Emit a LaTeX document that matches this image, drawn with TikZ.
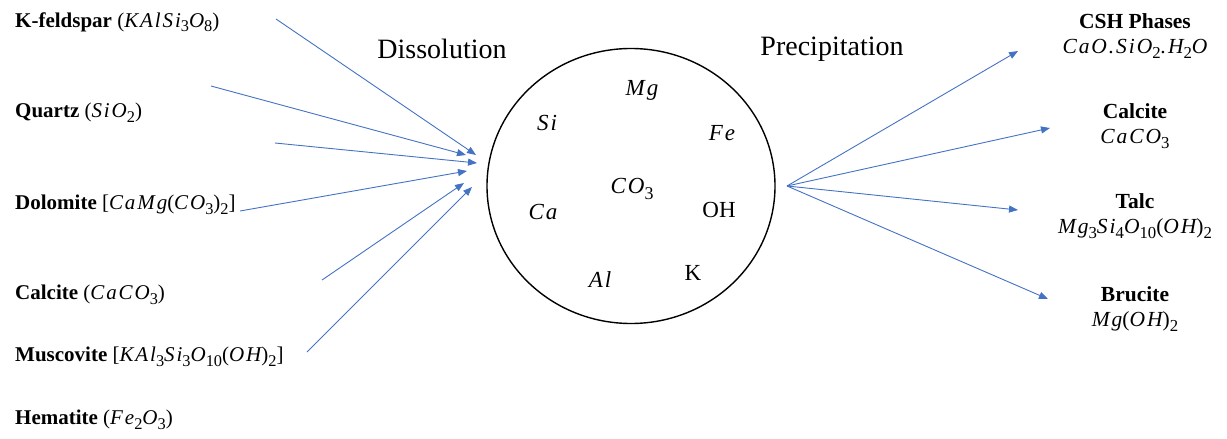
\documentclass[tikz,border=0pt]{standalone}
\usepackage{graphicx}
\usepackage{fontspec}
\setmainfont{Liberation Serif}
\newfontfamily\fmfam[LetterSpace=9]{Liberation Serif}
\newcommand\fm[1]{{\fmfam\itshape #1}}
\newcommand\sbs[1]{\raisebox{-0.22em}{\scalebox{0.78}{#1}}}
\usetikzlibrary{arrows.meta,shapes.geometric}
\definecolor{arrblue}{RGB}{68,114,196}
\begin{document}
\begin{tikzpicture}[x=1pt,y=-1pt,
  lbl/.style={anchor=west,inner sep=0pt,font=\fontsize{21}{25}\selectfont},
  prod/.style={align=center,inner sep=0pt,font=\fontsize{21.5}{25}\selectfont},
  ion/.style={inner sep=0pt,font=\fontsize{23}{26}\selectfont},
  head/.style={inner sep=0pt,font=\fontsize{28}{30}\selectfont},
  flow/.style={draw=arrblue,line width=0.9pt,-{Triangle[length=9pt,width=7pt]},arrblue}]
\useasboundingbox (0,0) rectangle (1227,439);
% left labels
\node[lbl] (kf) at (15,22) {\textbf{K-feldspar} (\fm{KAlSi}\sbs{3}\fm{O}\sbs{8})};
\node[lbl] (qz) at (15,113) {\textbf{Quartz} (\fm{SiO}\sbs{2})};
\node[lbl] (do) at (15,205) {\textbf{Dolomite} [\fm{CaMg}(\fm{CO}\sbs{3})\sbs{2}]};
\node[lbl] (ca) at (15,295) {\textbf{Calcite} (\fm{CaCO}\sbs{3})};
\node[lbl] (mu) at (15,357) {\textbf{Muscovite} [\fm{KAl}\sbs{3}\fm{Si}\sbs{3}\fm{O}\sbs{10}(\fm{OH})\sbs{2}]};
\node[lbl] (he) at (15,420) {\textbf{Hematite} (\fm{Fe}\sbs{2}\fm{O}\sbs{3})};
% headings
\node[head] (dis) at (442,49) {Dissolution};
\node[head] (pre) at (832,49) {Precipitation};
% circle
\node[draw,ellipse,line width=1.4pt,minimum width=288pt,minimum height=275pt,inner sep=0pt] (pool) at (631,186) {};
\node[ion] (mg) at (642,90) {\fm{Mg}};
\node[ion] (si) at (547,123) {\fm{Si}};
\node[ion] (fe) at (722,133) {\fm{Fe}};
\node[ion] (co) at (632,189) {\fm{CO}\sbs{3}};
\node[ion] (cai) at (543,212) {\fm{Ca}};
\node[ion] (oh) at (719,210) {OH};
\node[ion] (al) at (600,280) {\fm{Al}};
\node[ion] (k) at (693,273) {K};
% right labels
\node[prod] (csh) at (1135,36) {\textbf{CSH Phases}\\ \fm{CaO.SiO}\sbs{2}\fm{.H}\sbs{2}\fm{O}};
\node[prod] (cal) at (1135,126) {\textbf{Calcite}\\ \fm{CaCO}\sbs{3}};
\node[prod] (tal) at (1135,216) {\textbf{Talc}\\ \fm{Mg}\sbs{3}\fm{Si}\sbs{4}\fm{O}\sbs{10}(\fm{OH})\sbs{2}};
\node[prod] (bru) at (1135,309) {\textbf{Brucite}\\ \fm{Mg}(\fm{OH})\sbs{2}};
% arrow ends
\coordinate (s1) at (276,19);  \coordinate (t1) at (476,155);
\coordinate (s2) at (211,86);  \coordinate (t2) at (466,155);
\coordinate (s3) at (275,143); \coordinate (t3) at (477,163);
\coordinate (s4) at (240,211); \coordinate (t4) at (467,171);
\coordinate (s5) at (322,280); \coordinate (t5) at (464,183);
\coordinate (s6) at (307,352); \coordinate (t6) at (472,187);
\draw[flow] (s1) -- (t1);
\draw[flow] (s2) -- (t2);
\draw[flow] (s3) -- (t3);
\draw[flow] (s4) -- (t4);
\draw[flow] (s5) -- (t5);
\draw[flow] (s6) -- (t6);
\coordinate (src) at (787,186);
\coordinate (r1) at (1018,51);
\coordinate (r2) at (1050,128);
\coordinate (r3) at (1018,210);
\coordinate (r4) at (1048,299);
\draw[flow] (src) -- (r1);
\draw[flow] (src) -- (r2);
\draw[flow] (src) -- (r3);
\draw[flow] (src) -- (r4);
\end{tikzpicture}
\end{document}
